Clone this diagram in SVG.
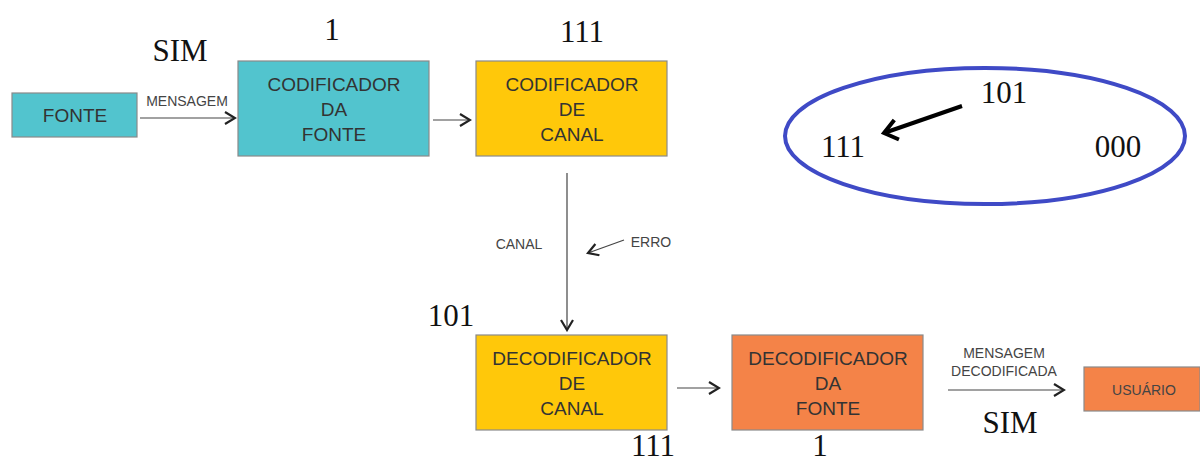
<svg xmlns="http://www.w3.org/2000/svg" width="1200" height="462" viewBox="0 0 1200 462">
<defs>
<style>
.box{stroke:#8a8a8a;stroke-width:1.2}
.teal{fill:#52C4CE}
.yel{fill:#FFC80A}
.org{fill:#F48348}
.bt{font-family:"Liberation Sans",Arial,sans-serif;font-size:19px;fill:#333;text-anchor:middle}
.st{font-family:"Liberation Sans",Arial,sans-serif;font-size:14px;fill:#444;text-anchor:middle}
.num{font-family:"Liberation Serif","Times New Roman",serif;font-size:31px;fill:#111;text-anchor:middle}
.con{stroke:#444;stroke-width:1.2;fill:none}
</style>
<marker id="ah" markerWidth="14" markerHeight="14" refX="12" refY="7" orient="auto" markerUnits="userSpaceOnUse">
<path d="M2,1 L12,7 L2,13" fill="none" stroke="#222" stroke-width="2.2"/>
</marker>
<marker id="ahb" markerWidth="30" markerHeight="30" refX="26" refY="15" orient="auto" markerUnits="userSpaceOnUse">
<path d="M14,4 L26,15 L12,24" fill="none" stroke="#000" stroke-width="4"/>
</marker>
</defs>
<rect width="1200" height="462" fill="#fff"/>
<g id="connectors">
<line class="con" x1="140" y1="118" x2="235" y2="118" marker-end="url(#ah)"/>
<line class="con" x1="433" y1="120" x2="470" y2="120" marker-end="url(#ah)"/>
<line class="con" x1="567" y1="173" x2="567" y2="330" marker-end="url(#ah)"/>
<line class="con" x1="624" y1="240" x2="588" y2="253" marker-end="url(#ah)"/>
<line class="con" x1="677" y1="388" x2="719" y2="388" marker-end="url(#ah)"/>
<line class="con" x1="948" y1="390" x2="1064" y2="390" marker-end="url(#ah)"/>
<text class="st" x="187" y="106">MENSAGEM</text>
<text class="st" x="519" y="249">CANAL</text>
<text class="st" x="651" y="247">ERRO</text>
<text class="st" x="1004" y="358">MENSAGEM</text>
<text class="st" x="1004" y="376">DECODIFICADA</text>
</g>
<g id="fonte">
<rect class="box teal" x="12" y="93" width="125" height="44"/>
<text class="bt" x="75" y="122">FONTE</text>
</g>
<g id="codificador-fonte">
<rect class="box teal" x="238" y="61" width="191" height="95"/>
<text class="bt" x="334" y="91">CODIFICADOR</text>
<text class="bt" x="334" y="116">DA</text>
<text class="bt" x="334" y="141">FONTE</text>
</g>
<g id="codificador-canal">
<rect class="box yel" x="476" y="61" width="191" height="95"/>
<text class="bt" x="572" y="91">CODIFICADOR</text>
<text class="bt" x="572" y="116">DE</text>
<text class="bt" x="572" y="141">CANAL</text>
</g>
<g id="decodificador-canal">
<rect class="box yel" x="476" y="335" width="191" height="95"/>
<text class="bt" x="572" y="365">DECODIFICADOR</text>
<text class="bt" x="572" y="390">DE</text>
<text class="bt" x="572" y="415">CANAL</text>
</g>
<g id="decodificador-fonte">
<rect class="box org" x="732" y="335" width="191" height="95"/>
<text class="bt" x="828" y="365">DECODIFICADOR</text>
<text class="bt" x="828" y="390">DA</text>
<text class="bt" x="828" y="415">FONTE</text>
</g>
<g id="usuario">
<rect class="box org" x="1084" y="367" width="116" height="44"/>
<text class="st" x="1144" y="395">USUÁRIO</text>
</g>
<g id="labels">
<text class="num" x="180" y="61">SIM</text>
<text class="num" x="332" y="40">1</text>
<text class="num" x="582" y="42">111</text>
<text class="num" x="451" y="326">101</text>
<text class="num" x="653" y="456">111</text>
<text class="num" x="820" y="456">1</text>
<text class="num" x="1010" y="433">SIM</text>
</g>
<g id="ellipse">
<ellipse cx="985" cy="136" rx="200" ry="68" fill="none" stroke="#3F4AC6" stroke-width="4"/>
<line x1="962" y1="106" x2="884" y2="133" stroke="#000" stroke-width="4" marker-end="url(#ahb)"/>
<text class="num" x="1004" y="103">101</text>
<text class="num" x="843" y="157">111</text>
<text class="num" x="1118" y="157">000</text>
</g>
</svg>
